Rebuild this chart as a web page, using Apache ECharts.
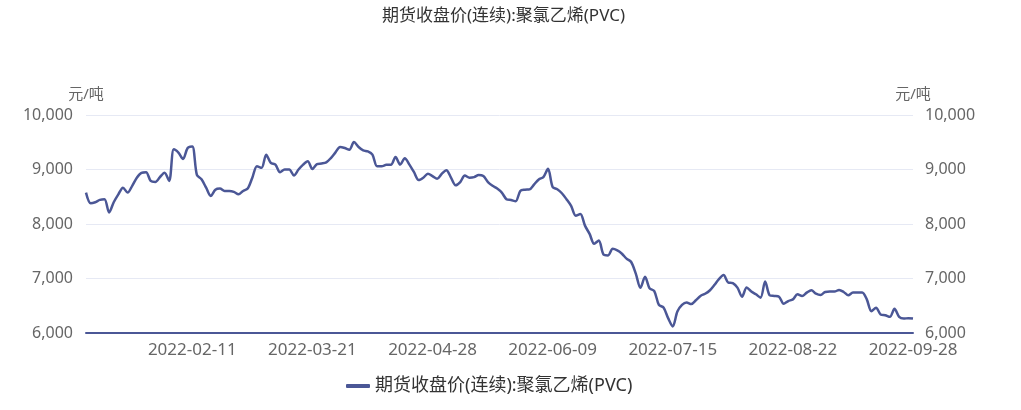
<!DOCTYPE html>
<html>
<head>
<meta charset="utf-8">
<script src="https://cdn.jsdelivr.net/npm/echarts@6/dist/echarts.min.js"></script>
<style>
html,body{margin:0;padding:0;background:#fff;}
#chart{width:1021px;height:410px;}
</style>
</head>
<body>
<div id="chart"></div>
<script>
const titleText = '期货收盘价(连续):聚氯乙烯(PVC)';
const seriesName = '期货收盘价(连续):聚氯乙烯(PVC)';
const unitName = '元/吨';

const dates = [
'2022-01-04','2022-01-05','2022-01-06','2022-01-07','2022-01-10','2022-01-11','2022-01-12','2022-01-13','2022-01-14',
'2022-01-17','2022-01-18','2022-01-19','2022-01-20','2022-01-21','2022-01-24','2022-01-25','2022-01-26','2022-01-27','2022-01-28',
'2022-02-07','2022-02-08','2022-02-09','2022-02-10','2022-02-11','2022-02-14','2022-02-15','2022-02-16','2022-02-17','2022-02-18',
'2022-02-21','2022-02-22','2022-02-23','2022-02-24','2022-02-25','2022-02-28',
'2022-03-01','2022-03-02','2022-03-03','2022-03-04','2022-03-07','2022-03-08','2022-03-09','2022-03-10','2022-03-11',
'2022-03-14','2022-03-15','2022-03-16','2022-03-17','2022-03-18','2022-03-21','2022-03-22','2022-03-23','2022-03-24','2022-03-25',
'2022-03-28','2022-03-29','2022-03-30','2022-03-31',
'2022-04-01','2022-04-06','2022-04-07','2022-04-08','2022-04-11','2022-04-12','2022-04-13','2022-04-14','2022-04-15',
'2022-04-18','2022-04-19','2022-04-20','2022-04-21','2022-04-22','2022-04-25','2022-04-26','2022-04-27','2022-04-28','2022-04-29',
'2022-05-05','2022-05-06','2022-05-09','2022-05-10','2022-05-11','2022-05-12','2022-05-13','2022-05-16','2022-05-17','2022-05-18',
'2022-05-19','2022-05-20','2022-05-23','2022-05-24','2022-05-25','2022-05-26','2022-05-27','2022-05-30','2022-05-31',
'2022-06-01','2022-06-02','2022-06-06','2022-06-07','2022-06-08','2022-06-09','2022-06-10','2022-06-13','2022-06-14','2022-06-15',
'2022-06-16','2022-06-17','2022-06-20','2022-06-21','2022-06-22','2022-06-23','2022-06-24','2022-06-27','2022-06-28','2022-06-29','2022-06-30',
'2022-07-01','2022-07-04','2022-07-05','2022-07-06','2022-07-07','2022-07-08','2022-07-11','2022-07-12','2022-07-13','2022-07-14','2022-07-15',
'2022-07-18','2022-07-19','2022-07-20','2022-07-21','2022-07-22','2022-07-25','2022-07-26','2022-07-27','2022-07-28','2022-07-29',
'2022-08-01','2022-08-02','2022-08-03','2022-08-04','2022-08-05','2022-08-08','2022-08-09','2022-08-10','2022-08-11','2022-08-12',
'2022-08-15','2022-08-16','2022-08-17','2022-08-18','2022-08-19','2022-08-22','2022-08-23','2022-08-24','2022-08-25','2022-08-26',
'2022-08-29','2022-08-30','2022-08-31',
'2022-09-01','2022-09-02','2022-09-05','2022-09-06','2022-09-07','2022-09-08','2022-09-09','2022-09-13','2022-09-14','2022-09-15','2022-09-16',
'2022-09-19','2022-09-20','2022-09-21','2022-09-22','2022-09-23','2022-09-26','2022-09-27','2022-09-28'
];

const prices = [
8576,8382,8400,8442,8455,8212,8400,8545,8667,8576,
8700,8850,8940,8950,8790,8770,8860,8940,8790,9370,
9310,9194,9394,9424,8900,8820,8667,8515,8630,8650,
8606,8606,8590,8545,8606,8650,8850,9060,9030,9270,
9120,9090,8950,9000,9000,8890,9000,9090,9150,9010,
9100,9110,9130,9210,9315,9412,9394,9364,9503,9412,
9350,9333,9273,9060,9060,9085,9085,9230,9090,9206,
9090,8950,8806,8850,8920,8880,8830,8920,8988,8850,
8710,8770,8890,8850,8860,8900,8880,8770,8700,8650,
8576,8455,8440,8418,8606,8630,8636,8727,8818,8860,
9012,8679,8636,8564,8455,8333,8152,8182,7970,7818,
7636,7697,7440,7424,7545,7515,7455,7364,7303,7090,
6830,7030,6818,6770,6515,6467,6273,6121,6394,6515,
6560,6530,6600,6680,6720,6780,6880,6990,7062,6926,
6914,6833,6667,6833,6760,6710,6648,6944,6690,6680,
6667,6537,6587,6617,6710,6679,6740,6784,6722,6698,
6753,6760,6760,6790,6753,6691,6741,6741,6741,6617,
6401,6463,6340,6327,6296,6444,6296,6265,6272,6265
];

const yTicks = [6000, 7000, 8000, 9000, 10000];

const mainColor = '#4b5796';
const labelColor = '#666666';
const fontFam = "'Noto Sans', 'Noto Sans CJK SC', sans-serif";

const chart = echarts.init(document.getElementById('chart'), null, {renderer: 'canvas'});
chart.setOption({
  animation: false,
  textStyle: {fontFamily: fontFam},
  title: {
    text: titleText,
    left: 377,
    top: 3,
    textStyle: {fontSize: 17, fontWeight: 'normal', color: '#333', fontFamily: fontFam}
  },
  legend: {
    data: [{name: seriesName, icon: 'roundRect'}],
    left: 341,
    top: 372,
    itemWidth: 24,
    itemHeight: 4,
    itemGap: 8,
    textStyle: {fontSize: 18, color: '#333', fontFamily: fontFam}
  },
  grid: {left: 86, right: 108, top: 115, bottom: 77, containLabel: false},
  xAxis: {
    type: 'category',
    data: dates,
    boundaryGap: false,
    axisLine: {lineStyle: {color: mainColor, width: 2}},
    axisTick: {show: false},
    axisLabel: {
      color: labelColor,
      fontSize: 17,
      margin: 9,
      interval: function (idx) { return idx % 26 === 23; },
      fontFamily: fontFam
    },
    splitLine: {show: false}
  },
  yAxis: [
    {
      type: 'value',
      name: unitName,
      nameTextStyle: {color: labelColor, fontSize: 15, fontFamily: fontFam},
      nameGap: 13,
      min: yTicks[0], max: yTicks[yTicks.length - 1], interval: 1000,
      axisLine: {show: false},
      axisTick: {show: false},
      axisLabel: {color: labelColor, fontSize: 16, margin: 13, fontFamily: fontFam},
      splitLine: {lineStyle: {color: '#e6e9f4', width: 1}}
    },
    {
      type: 'value',
      position: 'right',
      name: unitName,
      nameTextStyle: {color: labelColor, fontSize: 15, fontFamily: fontFam},
      nameGap: 13,
      min: yTicks[0], max: yTicks[yTicks.length - 1], interval: 1000,
      axisLine: {show: false},
      axisTick: {show: false},
      axisLabel: {color: labelColor, fontSize: 16, margin: 12, fontFamily: fontFam},
      splitLine: {show: false}
    }
  ],
  series: [{
    name: seriesName,
    type: 'line',
    data: prices,
    yAxisIndex: 0,
    showSymbol: false,
    symbol: 'none',
    smooth: 0.3,
    lineStyle: {color: mainColor, width: 2.5},
    itemStyle: {color: mainColor}
  }]
});
</script>
</body>
</html>
